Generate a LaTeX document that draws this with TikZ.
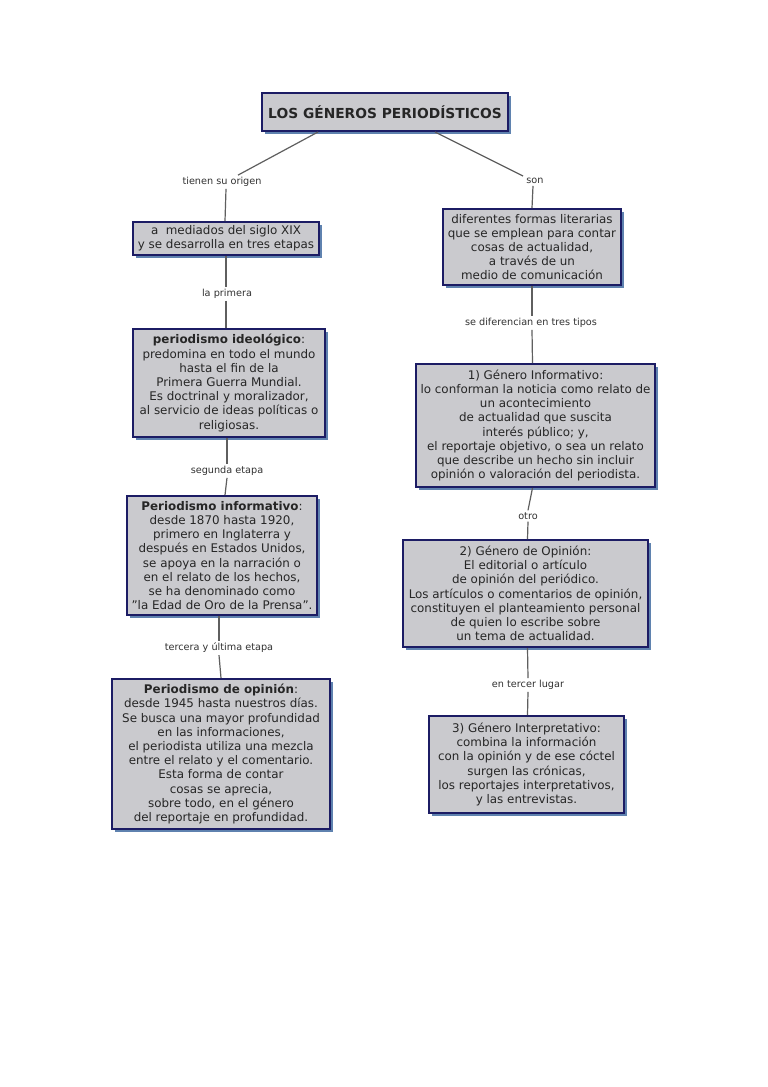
\documentclass[tikz,border=0pt]{standalone}
\usepackage{fontspec}
\setmainfont{DejaVu Sans}
\usetikzlibrary{shadows}
\definecolor{boxfill}{RGB}{202,202,206}
\definecolor{boxdraw}{RGB}{28,28,100}
\definecolor{shadowc}{RGB}{95,130,175}
\definecolor{linec}{RGB}{95,95,95}
\definecolor{labc}{RGB}{50,50,50}
\tikzset{
  cbox/.style={draw=boxdraw, line width=2pt, fill=boxfill, align=center,
    inner sep=0pt, font=\fontsize{11.9}{14.2}\selectfont, text=black!85,
    drop shadow={shadow xshift=3pt, shadow yshift=-3pt, fill=shadowc, opacity=1}},
  lab/.style={font=\fontsize{9.7}{11}\selectfont, text=labc, inner sep=2pt},
  conn/.style={draw=linec, line width=1.2pt}
}
\begin{document}
\begin{tikzpicture}[x=1pt,y=-1pt]
\useasboundingbox[fill=white] (0,0) rectangle (768,1087);
% boxes
\node[cbox, minimum width=246pt, minimum height=38pt, font=\fontsize{13.8}{15}\selectfont\bfseries] (title) at (385,112) {LOS GÉNEROS PERIODÍSTICOS};
\node[cbox, minimum width=186pt, minimum height=33pt] (a) at (226,238.5) {a\ \ mediados del siglo XIX\\y se desarrolla en tres etapas};
\node[cbox, minimum width=178pt, minimum height=76pt] (r1) at (532,247) {diferentes formas literarias\\que se emplean para contar\\cosas de actualidad,\\a través de un\\medio de comunicación};
\node[cbox, minimum width=192pt, minimum height=108pt] (l2) at (229,383) {\textbf{periodismo ideológico}:\\predomina en todo el mundo\\hasta el fin de la\\Primera Guerra Mundial.\\Es doctrinal y moralizador,\\al servicio de ideas políticas o\\religiosas.};
\node[cbox, minimum width=190pt, minimum height=119pt] (l3) at (222,555.5) {\textbf{Periodismo informativo}:\\desde 1870 hasta 1920,\\primero en Inglaterra y\\después en Estados Unidos,\\se apoya en la narración o\\en el relato de los hechos,\\se ha denominado como\\"la Edad de Oro de la Prensa".};
\node[cbox, minimum width=218pt, minimum height=150pt] (l4) at (221,754) {\textbf{Periodismo de opinión}:\\desde 1945 hasta nuestros días.\\Se busca una mayor profundidad\\en las informaciones,\\el periodista utiliza una mezcla\\entre el relato y el comentario.\\Esta forma de contar\\cosas se aprecia,\\sobre todo, en el género\\del reportaje en profundidad.};
\node[cbox, minimum width=239pt, minimum height=123pt] (r2) at (535.5,425.5) {1) Género Informativo:\\lo conforman la noticia como relato de\\un acontecimiento\\de actualidad que suscita\\interés público; y,\\el reportaje objetivo, o sea un relato\\que describe un hecho sin incluir\\opinión o valoración del periodista.};
\node[cbox, minimum width=245pt, minimum height=107pt] (r3) at (525.5,593.5) {2) Género de Opinión:\\El editorial o artículo\\de opinión del periódico.\\Los artículos o comentarios de opinión,\\constituyen el planteamiento personal\\de quien lo escribe sobre\\un tema de actualidad.};
\node[cbox, minimum width=195pt, minimum height=97pt] (r4) at (526.5,764.5) {3) Género Interpretativo:\\combina la información\\con la opinión y de ese cóctel\\surgen las crónicas,\\los reportajes interpretativos,\\y las entrevistas.};
% labels
\node[lab] (t1) at (222,182) {tienen su origen};
\node[lab] (t2) at (535,181) {son};
\node[lab] (t3) at (227,294) {la primera};
\node[lab] (t4) at (531,323) {se diferencian en tres tipos};
\node[lab] (t5) at (227,471) {segunda etapa};
\node[lab] (t6) at (528,516) {otro};
\node[lab] (t7) at (219,648) {tercera y última etapa};
\node[lab] (t8) at (528,685) {en tercer lugar};
% connectors
\draw[conn] ([xshift=-67pt]title.south) -- ([xshift=16pt]t1.north);
\draw[conn] ([xshift=4pt]t1.south) -- ([xshift=-1pt]a.north);
\draw[conn] ([xshift=50pt]title.south) -- ([xshift=-12pt]t2.north);
\draw[conn] ([xshift=-2pt]t2.south) -- (r1.north);
\draw[conn] (a.south) -- ([xshift=-1pt]t3.north);
\draw[conn] ([xshift=-1pt]t3.south) -- ([xshift=-3pt]l2.north);
\draw[conn] ([xshift=-2pt]l2.south) -- (t5.north);
\draw[conn] (t5.south) -- ([xshift=3pt]l3.north);
\draw[conn] ([xshift=-3pt]l3.south) -- (t7.north);
\draw[conn] (t7.south) -- (l4.north);
\draw[conn] (r1.south) -- ([xshift=1pt]t4.north);
\draw[conn] ([xshift=1pt]t4.south) -- ([xshift=-3pt]r2.north);
\draw[conn] ([xshift=-3pt]r2.south) -- (t6.north);
\draw[conn] (t6.south) -- ([xshift=2pt]r3.north);
\draw[conn] ([xshift=2pt]r3.south) -- (t8.north);
\draw[conn] (t8.south) -- ([xshift=1pt]r4.north);
\end{tikzpicture}
\end{document}
